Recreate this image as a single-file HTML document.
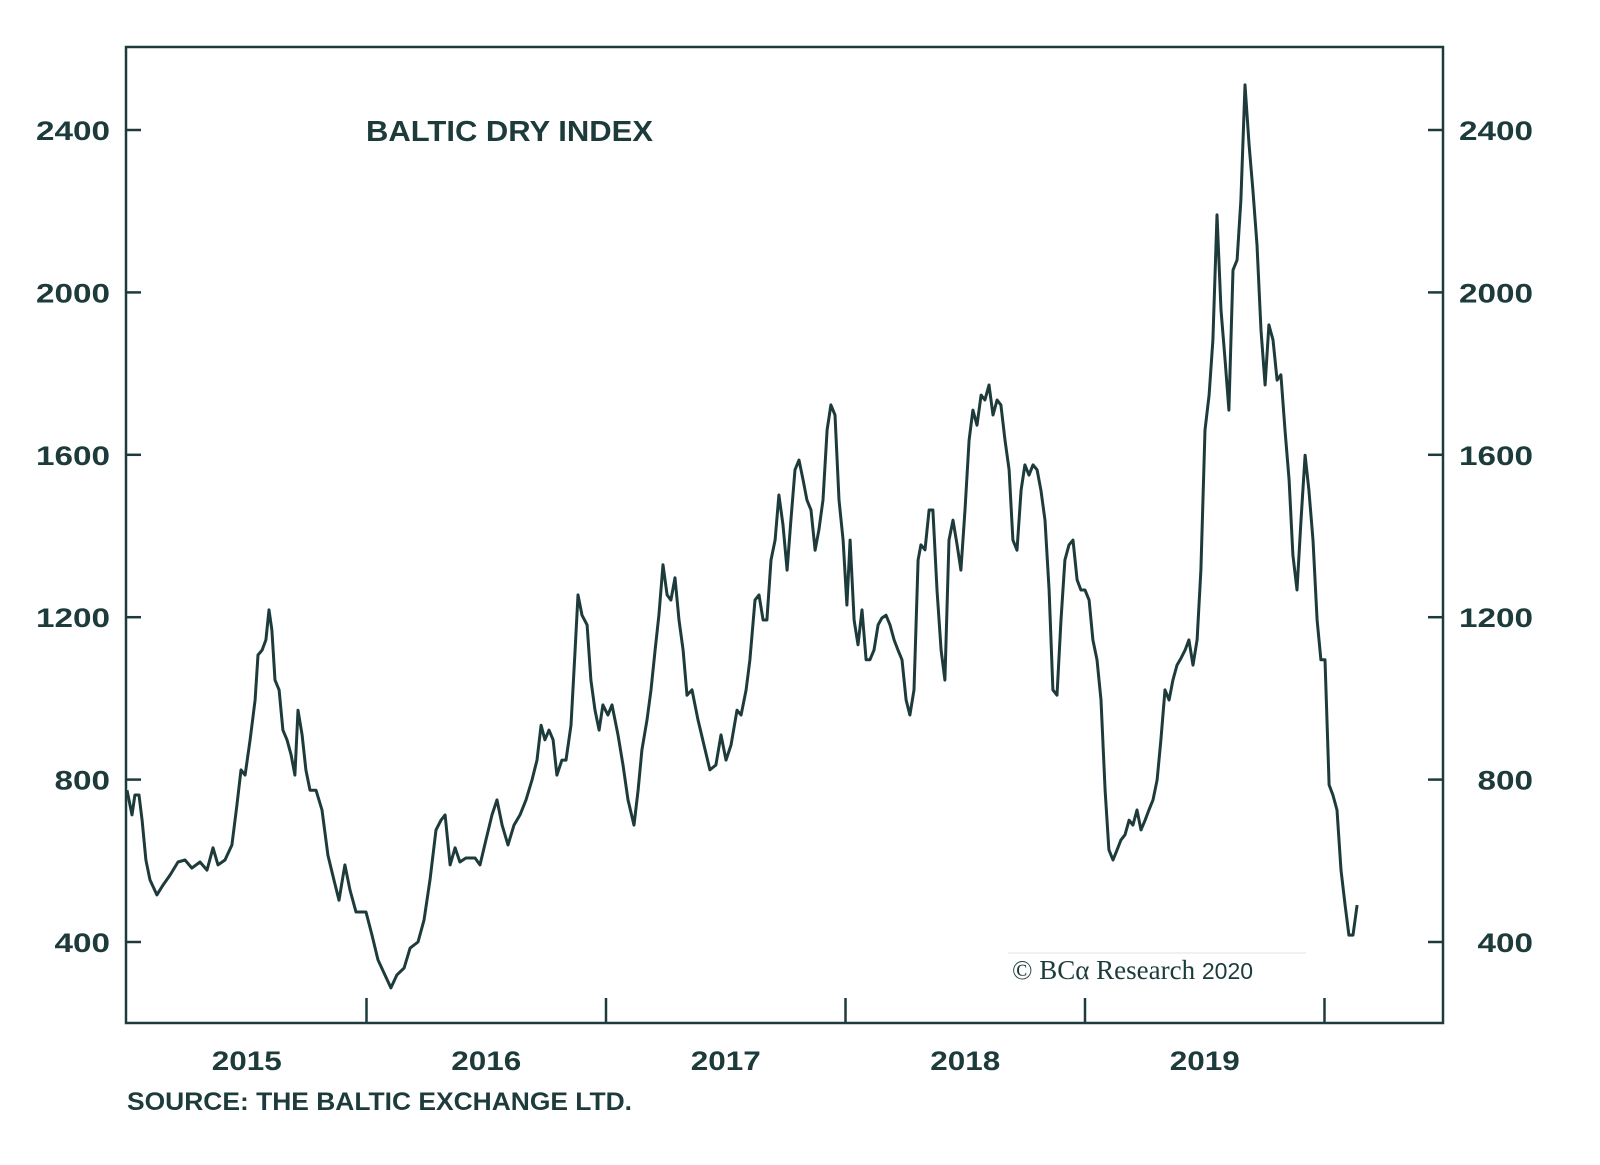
<!DOCTYPE html>
<html><head><meta charset="utf-8"><style>
html,body{margin:0;padding:0;background:#fff;}
svg{display:block;}
.t{font-family:"Liberation Sans",sans-serif;font-weight:bold;fill:#1e3b3c;}
</style></head><body>
<svg id="chart" width="1600" height="1165" viewBox="0 0 1600 1165" xmlns="http://www.w3.org/2000/svg">
<rect x="126" y="47" width="1317" height="976" fill="none" stroke="#1e3b3c" stroke-width="2.5"/>
<g id="axes"></g>
<path id="line" fill="none" stroke="#1e3b3c" stroke-width="3" stroke-linejoin="round"/>
<text class="t" x="366" y="141" font-size="29" textLength="287" lengthAdjust="spacingAndGlyphs">BALTIC DRY INDEX</text>
<line x1="1008" y1="953" x2="1306" y2="953" stroke="#e2e6e6" stroke-width="1"/>
<text x="1012" y="979" font-family="Liberation Serif,serif" font-size="27" fill="#1e3b3c">© BCα Research <tspan font-family="Liberation Sans,sans-serif" font-size="23">2020</tspan></text>
<text class="t" x="127" y="1110" font-size="25" textLength="505" lengthAdjust="spacingAndGlyphs">SOURCE: THE BALTIC EXCHANGE LTD.</text>
</svg>
<script>
const yTicks=[400,800,1200,1600,2000,2400];
const xYears=[2015,2016,2017,2018,2019];
const dates=[0,.021,.033,.050,.063,.079,.096,.125,.150,.180,.213,.242,.271,.305,.334,.359,.380,.409,.438,.459,.476,.493,.514,.535,.547,.564,.580,.593,.605,.618,.635,.651,.668,.685,.701,.714,.731,.747,.764,.789,.814,.839,.864,.885,.910,.931,.956,.998,1.023,1.048,1.077,1.102,1.127,1.157,1.182,1.215,1.240,1.265,1.290,1.311,1.328,1.349,1.370,1.390,1.415,1.453,1.474,1.499,1.524,1.545,1.566,1.591,1.616,1.641,1.666,1.691,1.712,1.729,1.745,1.762,1.779,1.795,1.816,1.833,1.854,1.871,1.883,1.900,1.921,1.937,1.954,1.971,1.987,2.008,2.025,2.050,2.071,2.092,2.117,2.134,2.150,2.171,2.188,2.205,2.221,2.238,2.255,2.271,2.288,2.305,2.322,2.338,2.359,2.384,2.409,2.434,2.459,2.480,2.501,2.522,2.547,2.564,2.585,2.601,2.622,2.639,2.656,2.672,2.689,2.706,2.722,2.739,2.756,2.772,2.789,2.806,2.823,2.839,2.856,2.873,2.889,2.906,2.923,2.939,2.956,2.973,2.990,3.006,3.019,3.036,3.052,3.069,3.086,3.102,3.119,3.136,3.152,3.169,3.186,3.203,3.219,3.236,3.253,3.269,3.286,3.303,3.315,3.332,3.349,3.365,3.382,3.399,3.415,3.432,3.449,3.466,3.482,3.499,3.516,3.532,3.549,3.566,3.582,3.599,3.616,3.633,3.649,3.666,3.683,3.699,3.716,3.733,3.749,3.766,3.783,3.800,3.816,3.833,3.850,3.866,3.883,3.900,3.916,3.933,3.950,3.967,3.983,4.000,4.017,4.033,4.050,4.067,4.084,4.100,4.117,4.134,4.150,4.167,4.184,4.200,4.217,4.234,4.251,4.267,4.284,4.301,4.317,4.334,4.351,4.367,4.384,4.401,4.418,4.434,4.451,4.468,4.484,4.501,4.518,4.534,4.551,4.568,4.585,4.601,4.618,4.635,4.651,4.668,4.685,4.701,4.718,4.735,4.752,4.768,4.785,4.802,4.818,4.835,4.852,4.868,4.885,4.902,4.919,4.935,4.952,4.969,4.985,5.002,5.019,5.035,5.052,5.069,5.086,5.102,5.119,5.136];
const values=[774,713,762,762,700,602,553,516,540,565,597,602,582,597,577,632,590,602,639,737,824,811,898,996,1107,1119,1144,1218,1168,1045,1021,922,898,861,811,971,910,824,774,774,725,614,553,503,590,528,474,474,417,356,319,287,319,336,385,400,454,553,676,700,713,590,632,597,607,607,590,652,713,750,688,639,688,713,750,799,848,934,898,922,898,811,848,848,934,1119,1255,1205,1181,1045,971,922,984,959,984,910,836,750,688,774,873,947,1021,1119,1205,1329,1255,1242,1297,1193,1119,1008,1021,947,885,824,836,910,848,885,971,959,1021,1095,1242,1255,1193,1193,1341,1390,1501,1427,1316,1439,1563,1587,1538,1489,1464,1365,1415,1489,1661,1723,1698,1489,1390,1230,1390,1193,1132,1218,1095,1095,1119,1181,1198,1205,1181,1144,1119,1095,996,959,1021,1341,1378,1366,1464,1464,1267,1119,1045,1390,1439,1378,1316,1464,1636,1710,1673,1747,1735,1772,1698,1735,1723,1636,1563,1390,1365,1513,1575,1550,1575,1563,1513,1439,1267,1021,1008,1193,1341,1378,1390,1292,1267,1267,1242,1144,1095,996,774,627,602,627,651,664,700,688,725,676,700,725,750,799,898,1021,996,1045,1082,1099,1119,1144,1082,1144,1316,1661,1747,1883,2191,1957,1833,1710,2055,2080,2228,2511,2363,2252,2117,1907,1772,1920,1883,1784,1797,1661,1538,1353,1267,1439,1599,1513,1390,1193,1095,1095,787,762,725,577,491,417,417,491];

const NS='http://www.w3.org/2000/svg';
const yS=v=>942-(v-400)*0.406;
const xS=t=>127+t*239.5;
const ax=document.getElementById('axes');
function mk(tag,attrs,txt){const e=document.createElementNS(NS,tag);for(const k in attrs)e.setAttribute(k,attrs[k]);if(txt!==undefined)e.textContent=txt;ax.appendChild(e);return e;}
yTicks.forEach(v=>{
  const y=yS(v);
  let e=mk('line',{x1:126,x2:141,y1:y,y2:y,stroke:'#1e3b3c','stroke-width':2.5});
  
  
  e=mk('line',{x1:1428,x2:1443,y1:y,y2:y,stroke:'#1e3b3c','stroke-width':2.5});
  
  
  const w=String(v).length*18.5;
  e=mk('text',{x:110-w,y:y+10,'font-size':27,class:'t',textLength:w,lengthAdjust:'spacingAndGlyphs'},String(v));
  
  
  e=mk('text',{x:1533-w,y:y+10,'font-size':27,class:'t',textLength:w,lengthAdjust:'spacingAndGlyphs'},String(v));
  
  
});
xYears.forEach(yr=>{
  const t=yr-2015;
  if(t>0){
    const e=mk('line',{x1:xS(t),x2:xS(t),y1:998,y2:1023,stroke:'#1e3b3c','stroke-width':2.5});
    
    
  }
  const e2=mk('text',{x:xS(t+0.5)-35,y:1070,'font-size':27,class:'t',textLength:70,lengthAdjust:'spacingAndGlyphs'},String(yr));
  
  
});
const e3=mk('line',{x1:xS(5),x2:xS(5),y1:998,y2:1023,stroke:'#1e3b3c','stroke-width':2.5});


let d='';
dates.forEach((t,i)=>{d+=(i?'L':'M')+xS(t).toFixed(1)+' '+yS(values[i]).toFixed(1);});
document.getElementById('line').setAttribute('d',d);
</script>
</body></html>
